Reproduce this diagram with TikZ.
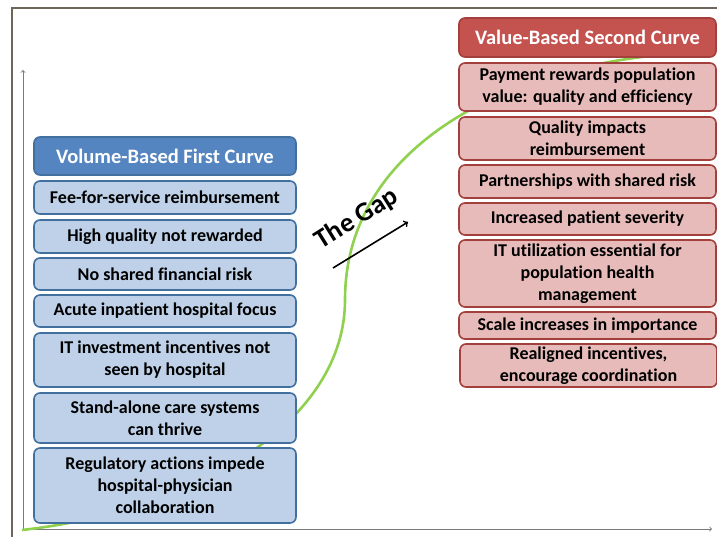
\documentclass[tikz,border=0pt]{standalone}
\usepackage{fontspec}
\setmainfont[Ligatures=NoCommon]{Carlito}
\definecolor{bluehead}{HTML}{5585C0}
\definecolor{bluefill}{HTML}{BED1E8}
\definecolor{blueline}{HTML}{41709F}
\definecolor{redhead}{HTML}{C4524F}
\definecolor{redfill}{HTML}{E7BBBA}
\definecolor{redline}{HTML}{A3403D}
\definecolor{curvegreen}{HTML}{8FD14F}
\definecolor{framecol}{HTML}{6F6558}
\definecolor{axiscol}{HTML}{7A7A7A}
\begin{document}
\begin{tikzpicture}[x=1pt,y=-1pt,
  box/.style={rounded corners=6pt, line width=1.6pt, align=center, inner sep=0pt,
    font=\fontsize{18}{22}\selectfont\bfseries},
  bluebox/.style={box, draw=blueline, fill=bluefill, minimum width=262pt},
  bluehd/.style={bluebox, fill=bluehead, text=white, font=\fontsize{20.5}{24}\selectfont\bfseries},
  redbox/.style={box, draw=redline, fill=redfill, minimum width=257pt},
  redhd/.style={redbox, fill=redhead, text=white, font=\fontsize{20.5}{24}\selectfont\bfseries}]
  \useasboundingbox (0,0) rectangle (717,537);
  % frame and axes
  \draw[framecol, line width=1.2pt] (12,537) -- (12,8) -- (717,8);
  \coordinate (o) at (23,529);
  \coordinate (ytop) at (23,70);
  \coordinate (xend) at (712,529);
  \draw[axiscol, line width=0.9pt, ->] (o) -- (ytop);
  \draw[axiscol, line width=0.9pt, ->] (o) -- (xend);
  % the S curve
  \draw[curvegreen, line width=2.6pt] (22,530) .. controls (200,510) and (345,420) .. (345,300)
    .. controls (345,150) and (500,70) .. (660,55);
  % first curve
  \node[bluehd,  minimum height=38pt] (hdL)   at (165,156)   {Volume-Based First Curve};
  \node[bluebox, minimum height=33pt] (fee)   at (165,197.5) {Fee-for-service reimbursement};
  \node[bluebox, minimum height=33pt] (hiq)   at (165,236.5) {High quality not rewarded};
  \node[bluebox, minimum height=32pt] (nsr)   at (165,274)   {No shared financial risk};
  \node[bluebox, minimum height=32pt] (acute) at (165,311)   {Acute inpatient hospital focus};
  \node[bluebox, minimum height=54pt] (itinv) at (165,360)   {IT investment incentives not\\seen by hospital};
  \node[bluebox, minimum height=50pt] (alone) at (165,418)   {Stand-alone care systems\\can thrive};
  \node[bluebox, minimum height=75pt] (regul) at (165,485.5) {Regulatory actions impede\\hospital-physician\\collaboration};
  % second curve
  \node[redhd,  minimum height=39pt] (hdR)    at (587.5,37.5)  {Value-Based Second Curve};
  \node[redbox, minimum height=48pt] (pay)    at (587.5,87)    {Payment rewards population\\value: quality and efficiency};
  \node[redbox, minimum height=43pt] (qual)   at (587.5,138.5) {Quality impacts\\reimbursement};
  \node[redbox, minimum height=33pt] (part)   at (587.5,181.5) {Partnerships with shared risk};
  \node[redbox, minimum height=32pt] (sev)    at (587.5,219)   {Increased patient severity};
  \node[redbox, minimum height=67pt] (itutil) at (587.5,273.5) {IT utilization essential for\\population health\\management};
  \node[redbox, minimum height=27pt] (scale)  at (587.5,325.5) {Scale increases in importance};
  \node[redbox, minimum height=43pt] (realgn) at (588.5,365.5) {Realigned incentives,\\encourage coordination};
  % the gap
  \node[rotate=32, font=\fontsize{27}{30}\selectfont\bfseries] (gap) at (357,219) {The Gap};
  \coordinate (gs) at (333,268);
  \coordinate (ge) at (408,222);
  \draw[line width=1.6pt, ->] (gs) -- (ge);
\end{tikzpicture}
\end{document}
